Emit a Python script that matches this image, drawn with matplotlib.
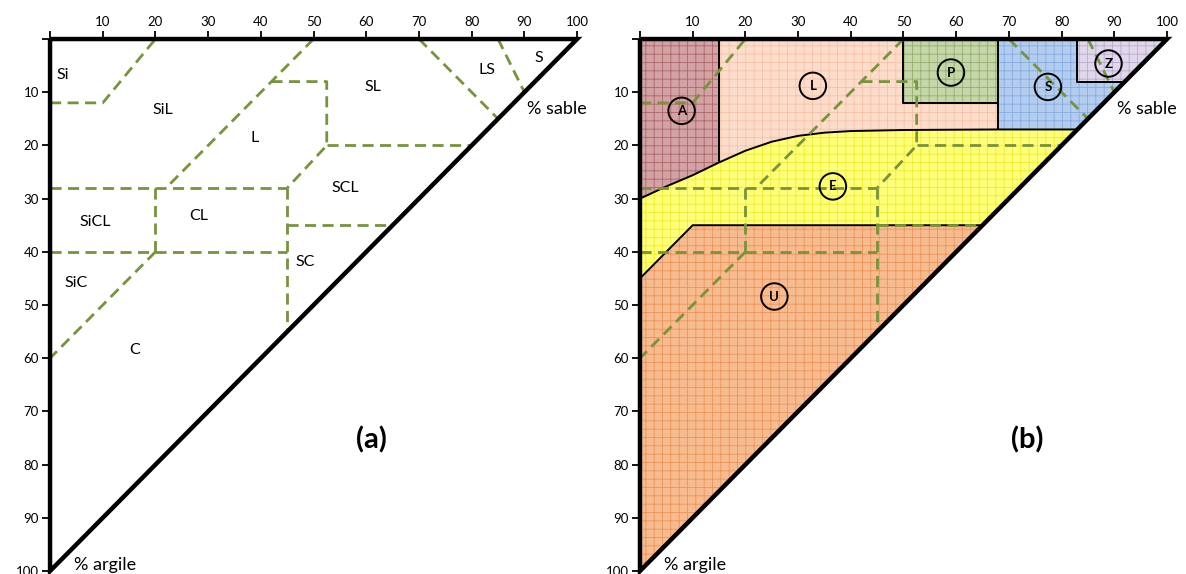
import matplotlib
matplotlib.use('Agg')
import matplotlib.pyplot as plt
from matplotlib.patches import Polygon

plt.rcParams['font.family'] = ['Lato', 'DejaVu Sans']
plt.rcParams['hatch.linewidth'] = 0.6

# Graduations des axes
GRADUATIONS = list(range(0, 101, 10))

# Limites des classes de texture (sable, argile) - lignes en tirets
LIMITES = [
    [(0, 12), (10, 12), (20, 0)],
    [(50, 0), (22, 28)],
    [(42, 8), (52.5, 8), (52.5, 20), (45, 28)],
    [(52.5, 20), (80, 20)],
    [(0, 28), (45, 28)],
    [(20, 28), (20, 40)],
    [(45, 28), (45, 55)],
    [(45, 35), (65, 35)],
    [(0, 40), (45, 40)],
    [(20, 40), (0, 60)],
    [(70, 0), (85, 15)],
    [(85, 0), (90, 10)],
]

# Noms des classes et positions
TEXTURES = ['Si', 'SiL', 'L', 'SL', 'LS', 'S', 'SCL', 'SiCL', 'CL', 'SC', 'SiC', 'C']
TEX_SABLE = [2.5, 21.4, 38.9, 61.3, 82.9, 92.8, 56, 8.5, 28.3, 48.4, 4.9, 16.1]
TEX_ARGILE = [6.8, 13.3, 18.6, 9, 5.8, 3.6, 28, 34.4, 33.3, 41.9, 45.9, 58.5]

# Courbe limite superieure de la zone E
COURBE_SABLE = [0, 5, 10, 15, 20, 25, 30, 35, 40, 50, 68, 83]
COURBE_ARGILE = [30, 27.7, 25.6, 23.2, 21, 19.3, 18.2, 17.6, 17.3, 17.1, 17, 17]

# Zones (b)
ZONES = ['A', 'L', 'P', 'S', 'Z', 'E', 'U']
ZONE_SABLE = [7.9, 32.8, 59, 77.4, 88.9, 36.6, 25.5]
ZONE_ARGILE = [13.5, 8.8, 6.3, 9, 4.6, 27.7, 48.4]
ZONE_FOND = ['#d2a2a4', '#fcdccb', '#c5d6a8', '#b4cdef', '#e0d8ea', '#ffff7a', '#f6bc90']
ZONE_TRAME = ['#ad6669', '#f6c2a6', '#94ae70', '#84ace2', '#b8aad0', '#ecec30', '#ef9258']

VERT = '#77933c'


def courbe(xmin, xmax):
    return [(x, y) for x, y in zip(COURBE_SABLE, COURBE_ARGILE) if xmin <= x <= xmax]


def polygones():
    c = list(zip(COURBE_SABLE, COURBE_ARGILE))
    return {
        'A': [(0, 0), (15, 0)] + courbe(15, 15) + courbe(0, 10)[::-1],
        'L': [(15, 0), (50, 0), (50, 12), (68, 12)] + courbe(15, 68)[::-1],
        'P': [(50, 0), (68, 0), (68, 12), (50, 12)],
        'S': [(68, 0), (83, 0), (83, 8), (92, 8), (83, 17), (68, 17)],
        'Z': [(83, 0), (100, 0), (92, 8), (83, 8)],
        'E': c + [(65, 35), (10, 35), (0, 45)],
        'U': [(0, 45), (10, 35), (65, 35), (0, 100)],
    }


def panneau(ax, zones, lettre):
    ax.set_xlim(0, 100)
    ax.set_ylim(100, 0)
    for s in ax.spines.values():
        s.set_visible(False)
    ax.xaxis.tick_top()
    ax.set_xticks(GRADUATIONS)
    ax.set_xticklabels([''] + [str(g) for g in GRADUATIONS[1:]])
    ax.set_yticks(GRADUATIONS)
    ax.set_yticklabels([''] + [str(g) for g in GRADUATIONS[1:]])
    ax.tick_params(direction='out', length=6, width=1.3, labelsize=9.5, pad=2)

    if zones:
        polys = polygones()
        for i, z in enumerate(ZONES):
            ax.add_patch(Polygon(polys[z], closed=True, facecolor=ZONE_FOND[i],
                                 edgecolor='none', zorder=1))
            ax.add_patch(Polygon(polys[z], closed=True, facecolor='none',
                                 edgecolor=ZONE_TRAME[i], lw=0, hatch='++', zorder=1.5))
        # contours noirs des zones
        contours = [
            [(15, 0)] + courbe(15, 15),
            [(50, 0), (50, 12), (68, 12)],
            [(68, 0), (68, 17)],
            [(83, 0), (83, 8), (92, 8)],
            list(zip(COURBE_SABLE, COURBE_ARGILE)),
            [(0, 45), (10, 35), (65, 35)],
        ]
        for pts in contours:
            xs, ys = zip(*pts)
            ax.plot(xs, ys, color='black', lw=1.4, zorder=2)

    for pts in LIMITES:
        xs, ys = zip(*pts)
        ax.plot(xs, ys, color=VERT, lw=2, ls=(0, (4, 2.3)), zorder=3)

    # triangle
    ax.plot([0, 100, 0, 0], [0, 0, 100, 0], color='black', lw=3.2,
            solid_capstyle='butt', solid_joinstyle='miter', clip_on=False, zorder=4)

    if zones:
        for i, z in enumerate(ZONES):
            ax.text(ZONE_SABLE[i], ZONE_ARGILE[i], z, fontsize=9.5, fontweight='bold',
                    ha='center', va='center', zorder=5,
                    bbox=dict(boxstyle='circle,pad=0.55', fc='none', ec='black', lw=1.4))
    else:
        for t, x, y in zip(TEXTURES, TEX_SABLE, TEX_ARGILE):
            ax.text(x, y, t, fontsize=11.5, ha='center', va='center', zorder=5)

    ax.text(90.5, 13.2, '% sable', fontsize=13, ha='left', va='center', zorder=5)
    ax.text(4.5, 98.8, '% argile', fontsize=13, ha='left', va='center', zorder=5)
    ax.text(lettre[1], 75.4, lettre[0], fontsize=21, fontweight='bold',
            ha='center', va='center')


fig = plt.figure(figsize=(11.86, 5.74), dpi=100)
ax1 = fig.add_axes([0.0422, 0.0052, 0.4444, 0.9268])
ax2 = fig.add_axes([0.5396, 0.0052, 0.4444, 0.9268])
panneau(ax1, False, ('(a)', 61))
panneau(ax2, True, ('(b)', 73.4))

fig.savefig('out.png', dpi=100)
